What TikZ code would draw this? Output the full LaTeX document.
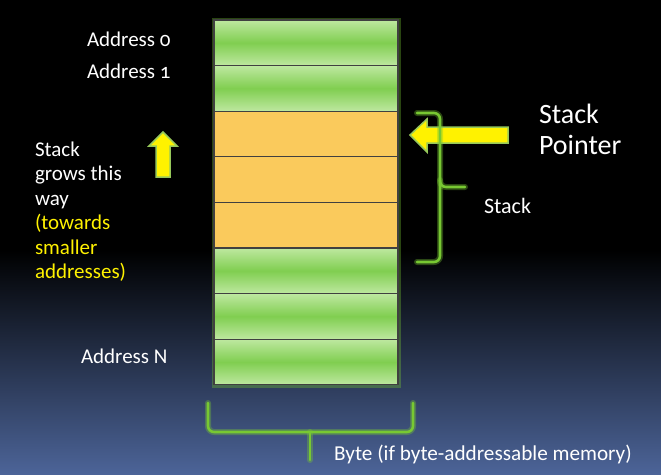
\documentclass[tikz,border=0pt]{standalone}
\usepackage{fontspec}
\setmainfont{Carlito}
\begin{document}
\begin{tikzpicture}[x=1pt,y=-1pt,
  every node/.style={inner sep=0pt, outer sep=0pt},
  cellg/.style={minimum width=184pt, minimum height=45.6pt, anchor=north west,
    draw=black!75, line width=1.3pt, top color=cellLight, bottom color=cellLight, middle color=cellMid},
  cello/.style={minimum width=184pt, minimum height=45.6pt, anchor=north west,
    draw=black!75, line width=1.3pt, fill=cellOrange},
  txt/.style={text=white, anchor=base west, font=\fontsize{21}{24}\selectfont},
  ytxt/.style={txt, text=yellow},
  glow/.style={draw=braceGreen, line width=6pt, opacity=0.35, line cap=round, line join=round},
  bracel/.style={draw=braceGreen, line width=2.6pt, line cap=round, line join=round},
  arrowy/.style={fill=yellow, draw=arrowEdge, line width=1.5pt, line join=miter}
]
\definecolor{cellLight}{RGB}{190,232,160}
\definecolor{cellMid}{RGB}{128,206,80}
\definecolor{cellOrange}{RGB}{250,202,92}
\definecolor{braceGreen}{RGB}{120,200,50}
\definecolor{bgBlue}{RGB}{76,100,152}
\definecolor{arrowEdge}{RGB}{150,200,90}
% background
\useasboundingbox (0,0) rectangle (661,474);
\fill[black] (0,0) rectangle (661,474);
\shade[top color=black, bottom color=bgBlue] (0,250) rectangle (661,474);
% glow around memory column
\draw[draw=braceGreen, line width=5pt, opacity=0.35] (214,20) rectangle (398,385);
% cells
\node[cellg] (c1) at (214,20) {};
\node[cellg] (c2) at (214,65.6) {};
\node[cello] (c3) at (214,111.2) {};
\node[cello] (c4) at (214,156.8) {};
\node[cello] (c5) at (214,202.4) {};
\node[cellg] (c6) at (214,248) {};
\node[cellg] (c7) at (214,293.6) {};
\node[cellg] (c8) at (214,339.2) {};
% address labels
\node[txt] (a0) at (87,46) {Address \addfontfeature{Numbers=OldStyle}0};
\node[txt] (a1) at (87,78) {Address \addfontfeature{Numbers=OldStyle}1};
\node[txt] (an) at (81,363) {Address N};
% left text
\node[txt] (l1) at (35,156) {Stack};
\node[txt] (l2) at (35,180.5) {grows this};
\node[txt] (l3) at (35,205) {way};
\node[ytxt] (l4) at (35,229.5) {(towards};
\node[ytxt] (l5) at (35,254) {smaller};
\node[ytxt] (l6) at (35,278.5) {addresses)};
% up arrow
\draw[arrowy] (163,132) -- (177,146) -- (170,146) -- (170,177) -- (156,177) -- (156,146) -- (149,146) -- cycle;
% stack pointer arrow
\draw[arrowy] (410,135) -- (427,119) -- (427,127) -- (508,127) -- (508,143) -- (427,143) -- (427,152) -- cycle;
\node[txt, font=\fontsize{28}{30}\selectfont] (sp1) at (539,123) {Stack};
\node[txt, font=\fontsize{28}{30}\selectfont] (sp2) at (539,154) {Pointer};
% right brace
\coordinate (rb1) at (417,113);
\coordinate (rb2) at (465,187);
\coordinate (rb3) at (417,262);
\foreach \s in {glow,bracel}{
  \draw[\s, rounded corners=6pt] (rb1) -- (440,113) -- (440,187) -- (rb2);
  \draw[\s, rounded corners=6pt] (440,180) -- (440,262) -- (rb3);
}
\node[txt, font=\fontsize{22}{24}\selectfont] (stk) at (484,213) {Stack};
% bottom brace
\coordinate (bb1) at (208,403);
\coordinate (bb2) at (413,403);
\coordinate (bb3) at (310,460);
\foreach \s in {glow,bracel}{
  \draw[\s, rounded corners=6pt] (bb1) -- (208,432) -- (413,432) -- (bb2);
  \draw[\s] (310,432) -- (bb3);
}
\node[txt, font=\fontsize{21.2}{24}\selectfont] (byte) at (334,460) {Byte (if byte-addressable memory)};
\end{tikzpicture}
\end{document}
